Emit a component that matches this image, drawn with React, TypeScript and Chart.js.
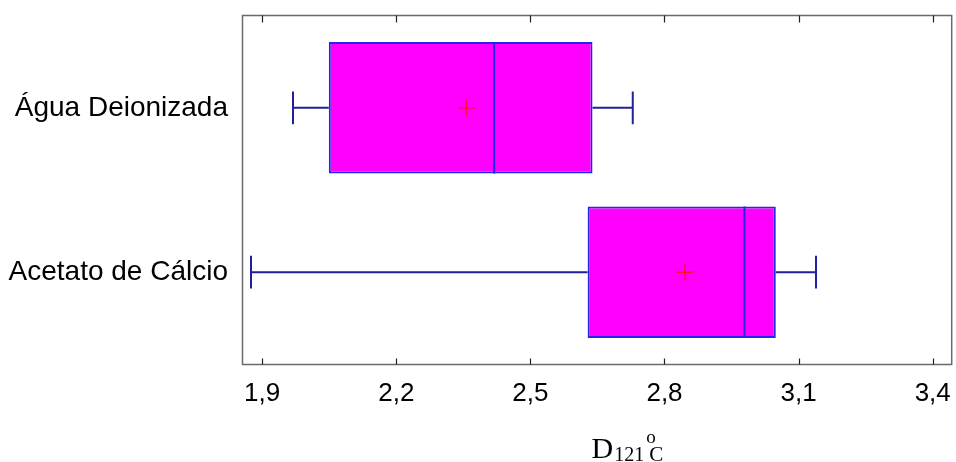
import React, { useEffect, useRef } from "react";
import { Chart, registerables } from "chart.js";

Chart.register(...registerables);

const categories = ["Água Deionizada", "Acetato de Cálcio"];
const minValues = [1.969, 1.875];
const q1Values = [2.049, 2.628];
const medianValues = [2.419, 2.979];
const q3Values = [2.639, 3.049];
const maxValues = [2.729, 3.139];
const meanValues = [2.357, 2.846];
const xTickValues = [1.9, 2.2, 2.5, 2.8, 3.1, 3.4];
const xTickLabels = ["1,9", "2,2", "2,5", "2,8", "3,1", "3,4"];

const BOX_HALF = 0.4;
const CAP_HALF = 0.1;
const WHISKER_COLOR = "#20209a";
const BOX_BORDER = "#2424ee";

const framePlugin = {
  id: "frameAndTicks",
  afterDatasetsDraw(chart: any) {
    const { ctx, chartArea, scales } = chart;
    const { left, right, top, bottom } = chartArea;
    ctx.save();
    ctx.strokeStyle = "#6a6a6a";
    ctx.lineWidth = 1.5;
    ctx.strokeRect(left, top, right - left, bottom - top);
    ctx.strokeStyle = "#222";
    ctx.lineWidth = 1.2;
    const xs = scales.x;
    xs.ticks.forEach((t: any) => {
      const px = Math.round(xs.getPixelForValue(t.value)) + 0.5;
      ctx.beginPath();
      ctx.moveTo(px, bottom);
      ctx.lineTo(px, bottom - 6);
      ctx.moveTo(px, top);
      ctx.lineTo(px, top + 7);
      ctx.stroke();
    });
    ctx.restore();
  },
  afterDraw(chart: any) {
    const { ctx, chartArea } = chart;
    const cx = (chartArea.left + chartArea.right) / 2;
    ctx.save();
    ctx.fillStyle = "#000";
    ctx.textAlign = "left";
    ctx.textBaseline = "alphabetic";
    let x = cx - 5.5;
    ctx.font = "30px 'Liberation Serif', 'Times New Roman', serif";
    ctx.fillText("D", x, 458);
    x += ctx.measureText("D").width + 1;
    ctx.font = "20px 'Liberation Serif', 'Times New Roman', serif";
    ctx.fillText("121", x, 461);
    x += ctx.measureText("121").width + 1;
    ctx.font = "19px 'Liberation Serif', 'Times New Roman', serif";
    ctx.fillText("o", x + 1, 443);
    ctx.font = "21px 'Liberation Serif', 'Times New Roman', serif";
    ctx.fillText("C", x + 4, 461);
    ctx.restore();
  },
};

export default function App() {
  const canvasRef = useRef<HTMLCanvasElement | null>(null);

  useEffect(() => {
    if (!canvasRef.current) return;
    const datasets: any[] = [];

    const seg = (a: any, b: any, color: string, order: number) => ({
      type: "line",
      data: [a, b],
      borderColor: color,
      borderWidth: 2,
      pointRadius: 0,
      fill: false,
      order,
    });

    categories.forEach((_, i) => {
      const y = i + 1;
      datasets.push(seg({ x: minValues[i], y }, { x: q1Values[i], y }, WHISKER_COLOR, 1));
      datasets.push(seg({ x: q3Values[i], y }, { x: maxValues[i], y }, WHISKER_COLOR, 1));
      datasets.push(seg({ x: minValues[i], y: y - CAP_HALF }, { x: minValues[i], y: y + CAP_HALF }, WHISKER_COLOR, 1));
      datasets.push(seg({ x: maxValues[i], y: y - CAP_HALF }, { x: maxValues[i], y: y + CAP_HALF }, WHISKER_COLOR, 1));
      datasets.push(seg({ x: medianValues[i], y: y - BOX_HALF }, { x: medianValues[i], y: y + BOX_HALF }, BOX_BORDER, 0));
    });

    datasets.push({
      type: "scatter",
      data: categories.map((_, i) => ({ x: meanValues[i], y: i + 1 })),
      pointStyle: "cross",
      pointRadius: 8.5,
      borderColor: "#ff1030",
      borderWidth: 1.5,
      showLine: false,
      order: 0,
    });

    datasets.push({
      type: "bar",
      indexAxis: "y",
      data: categories.map((_, i) => ({ y: i + 1, x: [q1Values[i], q3Values[i]] })),
      backgroundColor: "#ff00ff",
      borderColor: BOX_BORDER,
      borderWidth: 2,
      borderSkipped: false,
      barPercentage: 0.8,
      categoryPercentage: 1,
      order: 10,
    });

    const chart = new Chart(canvasRef.current, {
      type: "bar",
      data: { datasets },
      options: {
        animation: false,
        responsive: false,
        devicePixelRatio: 1,
        layout: { autoPadding: false, padding: { top: 15.5, right: 4.3, left: 0, bottom: 0 } },
        plugins: { legend: { display: false }, tooltip: { enabled: false } },
        scales: {
          x: {
            type: "linear",
            position: "bottom",
            offset: false,
            min: 1.856,
            max: 3.4425,
            grid: { display: false, drawTicks: false, offset: false },
            border: { display: false },
            afterBuildTicks: (scale: any) => {
              scale.ticks = xTickValues.map((v) => ({ value: v }));
            },
            afterFit: (scale: any) => {
              scale.height = 97.5;
              scale.paddingLeft = 0;
              scale.paddingRight = 0;
            },
            ticks: {
              padding: 14,
              color: "#000",
              maxRotation: 0,
              autoSkip: false,
              font: { family: "'Liberation Sans', Arial, sans-serif", size: 26 },
              callback: (_v: any, index: number) => xTickLabels[index],
            },
          },
          y: {
            type: "linear",
            position: "left",
            offset: false,
            reverse: true,
            min: 0.438,
            max: 2.562,
            grid: { display: false, drawTicks: false, offset: false },
            border: { display: false },
            afterBuildTicks: (scale: any) => {
              scale.ticks = categories.map((_, i) => ({ value: i + 1 }));
            },
            afterFit: (scale: any) => {
              scale.width = 242.5;
              scale.paddingTop = 0;
              scale.paddingBottom = 0;
            },
            ticks: {
              padding: 14.5,
              color: "#000",
              autoSkip: false,
              font: { family: "'Liberation Sans', Arial, sans-serif", size: 28 },
              callback: (v: any) => categories[Math.round(v) - 1],
            },
          },
        },
      },
      plugins: [framePlugin],
    } as any);

    return () => chart.destroy();
  }, []);

  return (
    <div style={{ position: "absolute", left: 0, top: 0, width: 956, height: 462 }}>
      <canvas ref={canvasRef} width={956} height={462} style={{ display: "block", width: 956, height: 462 }} />
    </div>
  );
}
